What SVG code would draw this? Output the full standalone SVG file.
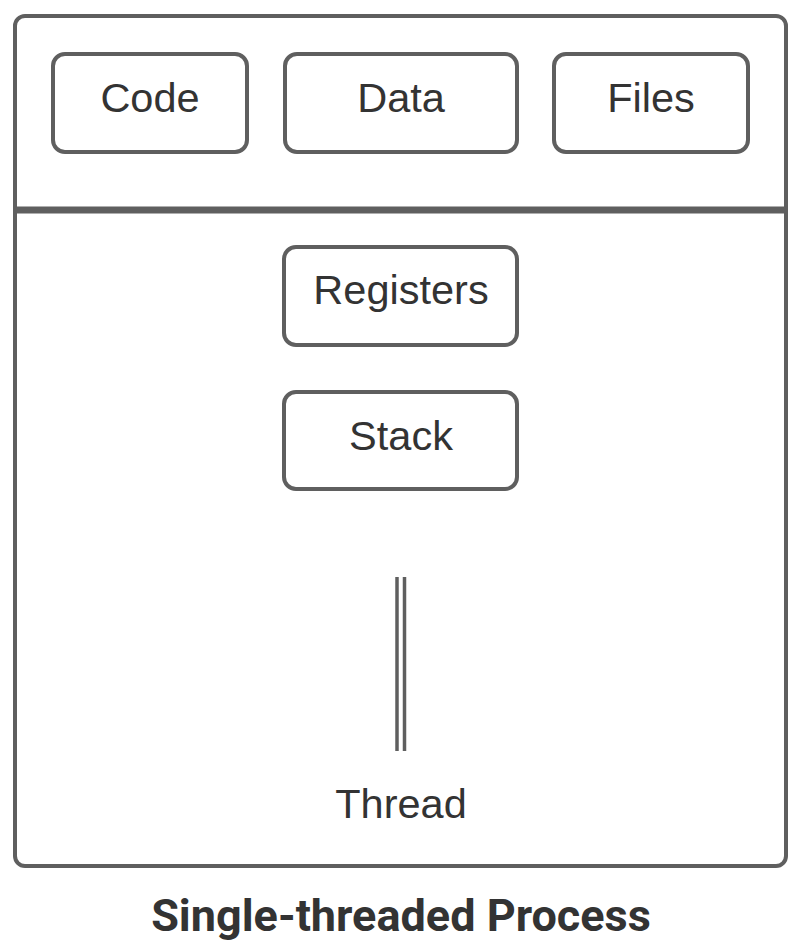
<svg xmlns="http://www.w3.org/2000/svg" width="806" height="950" viewBox="0 0 806 950">
<style>
.box{fill:#fff;stroke:#5f5f5f;stroke-width:4}
.lbl{font-family:"Liberation Sans",Arial,sans-serif;font-size:41.5px;fill:#333;text-anchor:middle}
.title{font-family:Roboto,"Liberation Sans",sans-serif;font-weight:bold;font-size:45px;fill:#333;text-anchor:middle}
.ln{stroke:#5f5f5f;fill:none}
</style>
<rect width="806" height="950" fill="#fff"/>
<g id="process">
<rect class="box" x="15" y="16" width="771" height="850" rx="10"/>
<line class="ln" x1="15" y1="210" x2="786" y2="210" stroke-width="7"/>
</g>
<g id="code"><rect class="box" x="53" y="54" width="194" height="98" rx="12"/><text class="lbl" x="150" y="112">Code</text></g>
<g id="data"><rect class="box" x="285" y="54" width="232" height="98" rx="12"/><text class="lbl" x="401" y="112">Data</text></g>
<g id="files"><rect class="box" x="554" y="54" width="194" height="98" rx="12"/><text class="lbl" x="651" y="112">Files</text></g>
<g id="registers"><rect class="box" x="284" y="247" width="233" height="98" rx="12"/><text class="lbl" x="401" y="304">Registers</text></g>
<g id="stack"><rect class="box" x="284" y="392" width="233" height="97" rx="12"/><text class="lbl" x="401" y="450">Stack</text></g>
<g id="thread">
<line class="ln" x1="397" y1="577" x2="397" y2="751" stroke-width="3.5"/>
<line class="ln" x1="404.5" y1="577" x2="404.5" y2="751" stroke-width="3.5"/>
<text class="lbl" x="401" y="818">Thread</text>
</g>
<text class="title" x="401" y="931">Single-threaded Process</text>
</svg>
